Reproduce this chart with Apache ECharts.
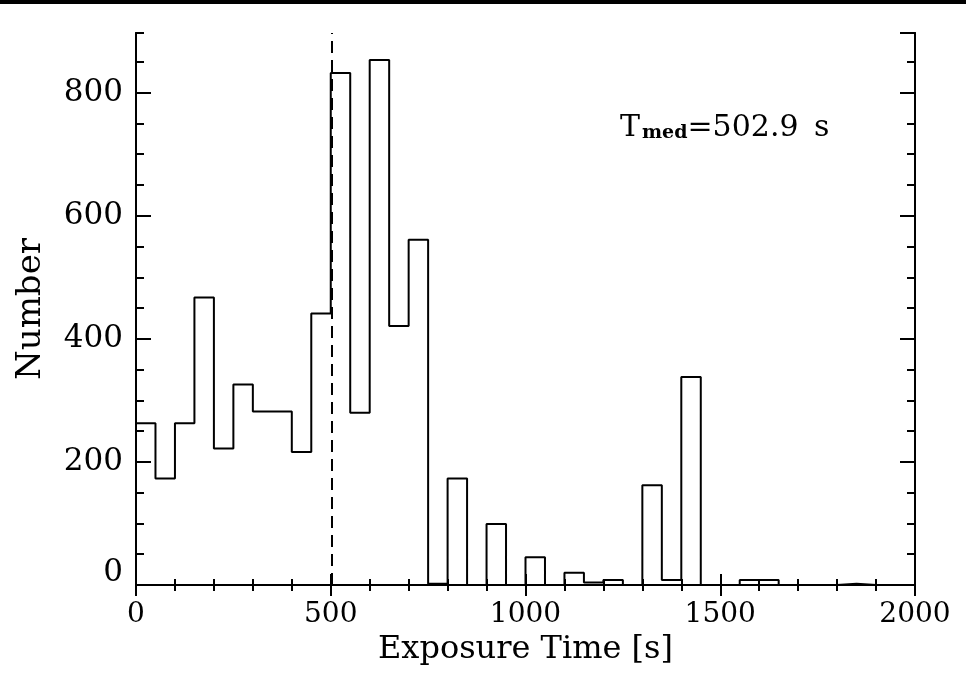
<!DOCTYPE html>
<html>
<head>
<meta charset="utf-8">
<script src="https://cdn.jsdelivr.net/npm/echarts@6/dist/echarts.min.js"></script>
<style>
html,body{margin:0;padding:0;background:#fff;}
#chart{width:966px;height:697px;}
</style>
</head>
<body>
<div id="chart"></div>
<script>
// Histogram of exposure times, bin width 50 s
const binStarts = [0,50,100,150,200,250,300,350,400,450,500,550,600,650,700,750,800,850,900,950,
  1000,1050,1100,1150,1200,1250,1300,1350,1400,1450,1500,1550,1600,1650,1700,1750,1800,1850,1900,1950];
const counts = [263,173,263,467,222,326,282,282,216,441,832,280,853,421,561,2,173,0,99,0,
  45,0,20,4,8,0,162,8,338,0,0,8,8,0,0,0,2,0,0,0];
const binWidth = 50;
const medianTime = 502.9;
const xTicks = [0,500,1000,1500,2000];
const yTicks = [0,200,400,600,800];
const xLabel = 'Exposure Time [s]';
const yLabel = 'Number';

const xMin = 0, xMax = 2000, yMin = 0, yMax = 897;

const stepData = binStarts.map((x, i) => [x, counts[i]]);
stepData.push([binStarts[binStarts.length - 1] + binWidth, counts[counts.length - 1]]);

const black = '#000';
const serif = "'DejaVu Serif', serif";

function yAx(pos, major, showLabel) {
  return {
    type: 'value', position: pos, min: yMin, max: yMax,
    interval: major ? 200 : 50,
    axisLine: { show: true, lineStyle: { color: black, width: 2 } },
    axisTick: { show: true, inside: true, length: major ? 15 : 8, lineStyle: { color: black, width: 2 } },
    axisLabel: {
      show: showLabel, color: black, fontFamily: serif, fontSize: 31, margin: 13,
      showMaxLabel: false,
      formatter: v => (v === 0 ? '{z|0}' : (yTicks.indexOf(v) >= 0 ? String(v) : '')),
      rich: { z: { fontFamily: serif, fontSize: 31, color: black, padding: [0, 0, 24, 0] } }
    },
    splitLine: { show: false },
    name: showLabel ? yLabel : '',
    nameLocation: 'middle', nameRotate: 90, nameGap: 88,
    nameTextStyle: { color: black, fontFamily: serif, fontSize: 34 }
  };
}

function xAx(pos, showLabel) {
  return {
    type: 'value', position: pos, min: xMin, max: xMax, interval: 500,
    axisLine: { show: true, lineStyle: { color: black, width: 2 } },
    axisTick: { show: true, inside: true, length: 11, lineStyle: { color: black, width: 2 } },
    minorTick: { show: true, splitNumber: 5, length: 6, lineStyle: { color: black, width: 2 } },
    axisLabel: {
      show: showLabel, color: black, fontFamily: serif, fontSize: 28, margin: 16,
      formatter: v => (xTicks.indexOf(v) >= 0 ? String(v) : '')
    },
    splitLine: { show: false },
    name: showLabel ? xLabel : '',
    nameLocation: 'middle', nameGap: 47,
    nameTextStyle: { color: black, fontFamily: serif, fontSize: 32 }
  };
}

const chart = echarts.init(document.getElementById('chart'), null, { renderer: 'canvas' });
chart.setOption({
  backgroundColor: '#fff',
  animation: false,
  grid: { left: 136, right: 51, top: 33, bottom: 112, containLabel: false },
  xAxis: [xAx('bottom', true), xAx('top', false)],
  yAxis: [yAx('left', true, true), yAx('left', false, false), yAx('right', true, false), yAx('right', false, false)],
  series: [{
    type: 'line',
    xAxisIndex: 0, yAxisIndex: 0,
    data: stepData,
    step: 'end',
    showSymbol: false,
    symbol: 'none',
    lineStyle: { color: black, width: 2 },
    markLine: {
      silent: true, symbol: ['none', 'none'],
      label: { show: false },
      lineStyle: { color: black, width: 2, type: [12, 7] },
      data: [{ xAxis: medianTime }]
    }
  }],
  graphic: [
    { type: 'rect', left: 0, top: 0, shape: { width: 966, height: 4 }, style: { fill: '#000' } },
    {
      type: 'text', left: 620, top: 113,
      style: {
        text: '{t|T}{sub|med}{v|=' + medianTime.toFixed(1) + '}{s| s}',
        rich: {
          t: { fontFamily: serif, fontSize: 30, fill: black, verticalAlign: 'bottom', lineHeight: 34 },
          sub: { fontFamily: serif, fontSize: 19, fontWeight: 'bold', fill: black, verticalAlign: 'bottom', lineHeight: 10, padding: [0, 0, 0, 2] },
          v: { fontFamily: serif, fontSize: 30, fill: black, verticalAlign: 'bottom', lineHeight: 34 },
          s: { fontFamily: serif, fontSize: 30, fill: black, verticalAlign: 'bottom', lineHeight: 34, padding: [0, 0, 0, 6] }
        }
      }
    }
  ]
});
</script>
</body>
</html>
